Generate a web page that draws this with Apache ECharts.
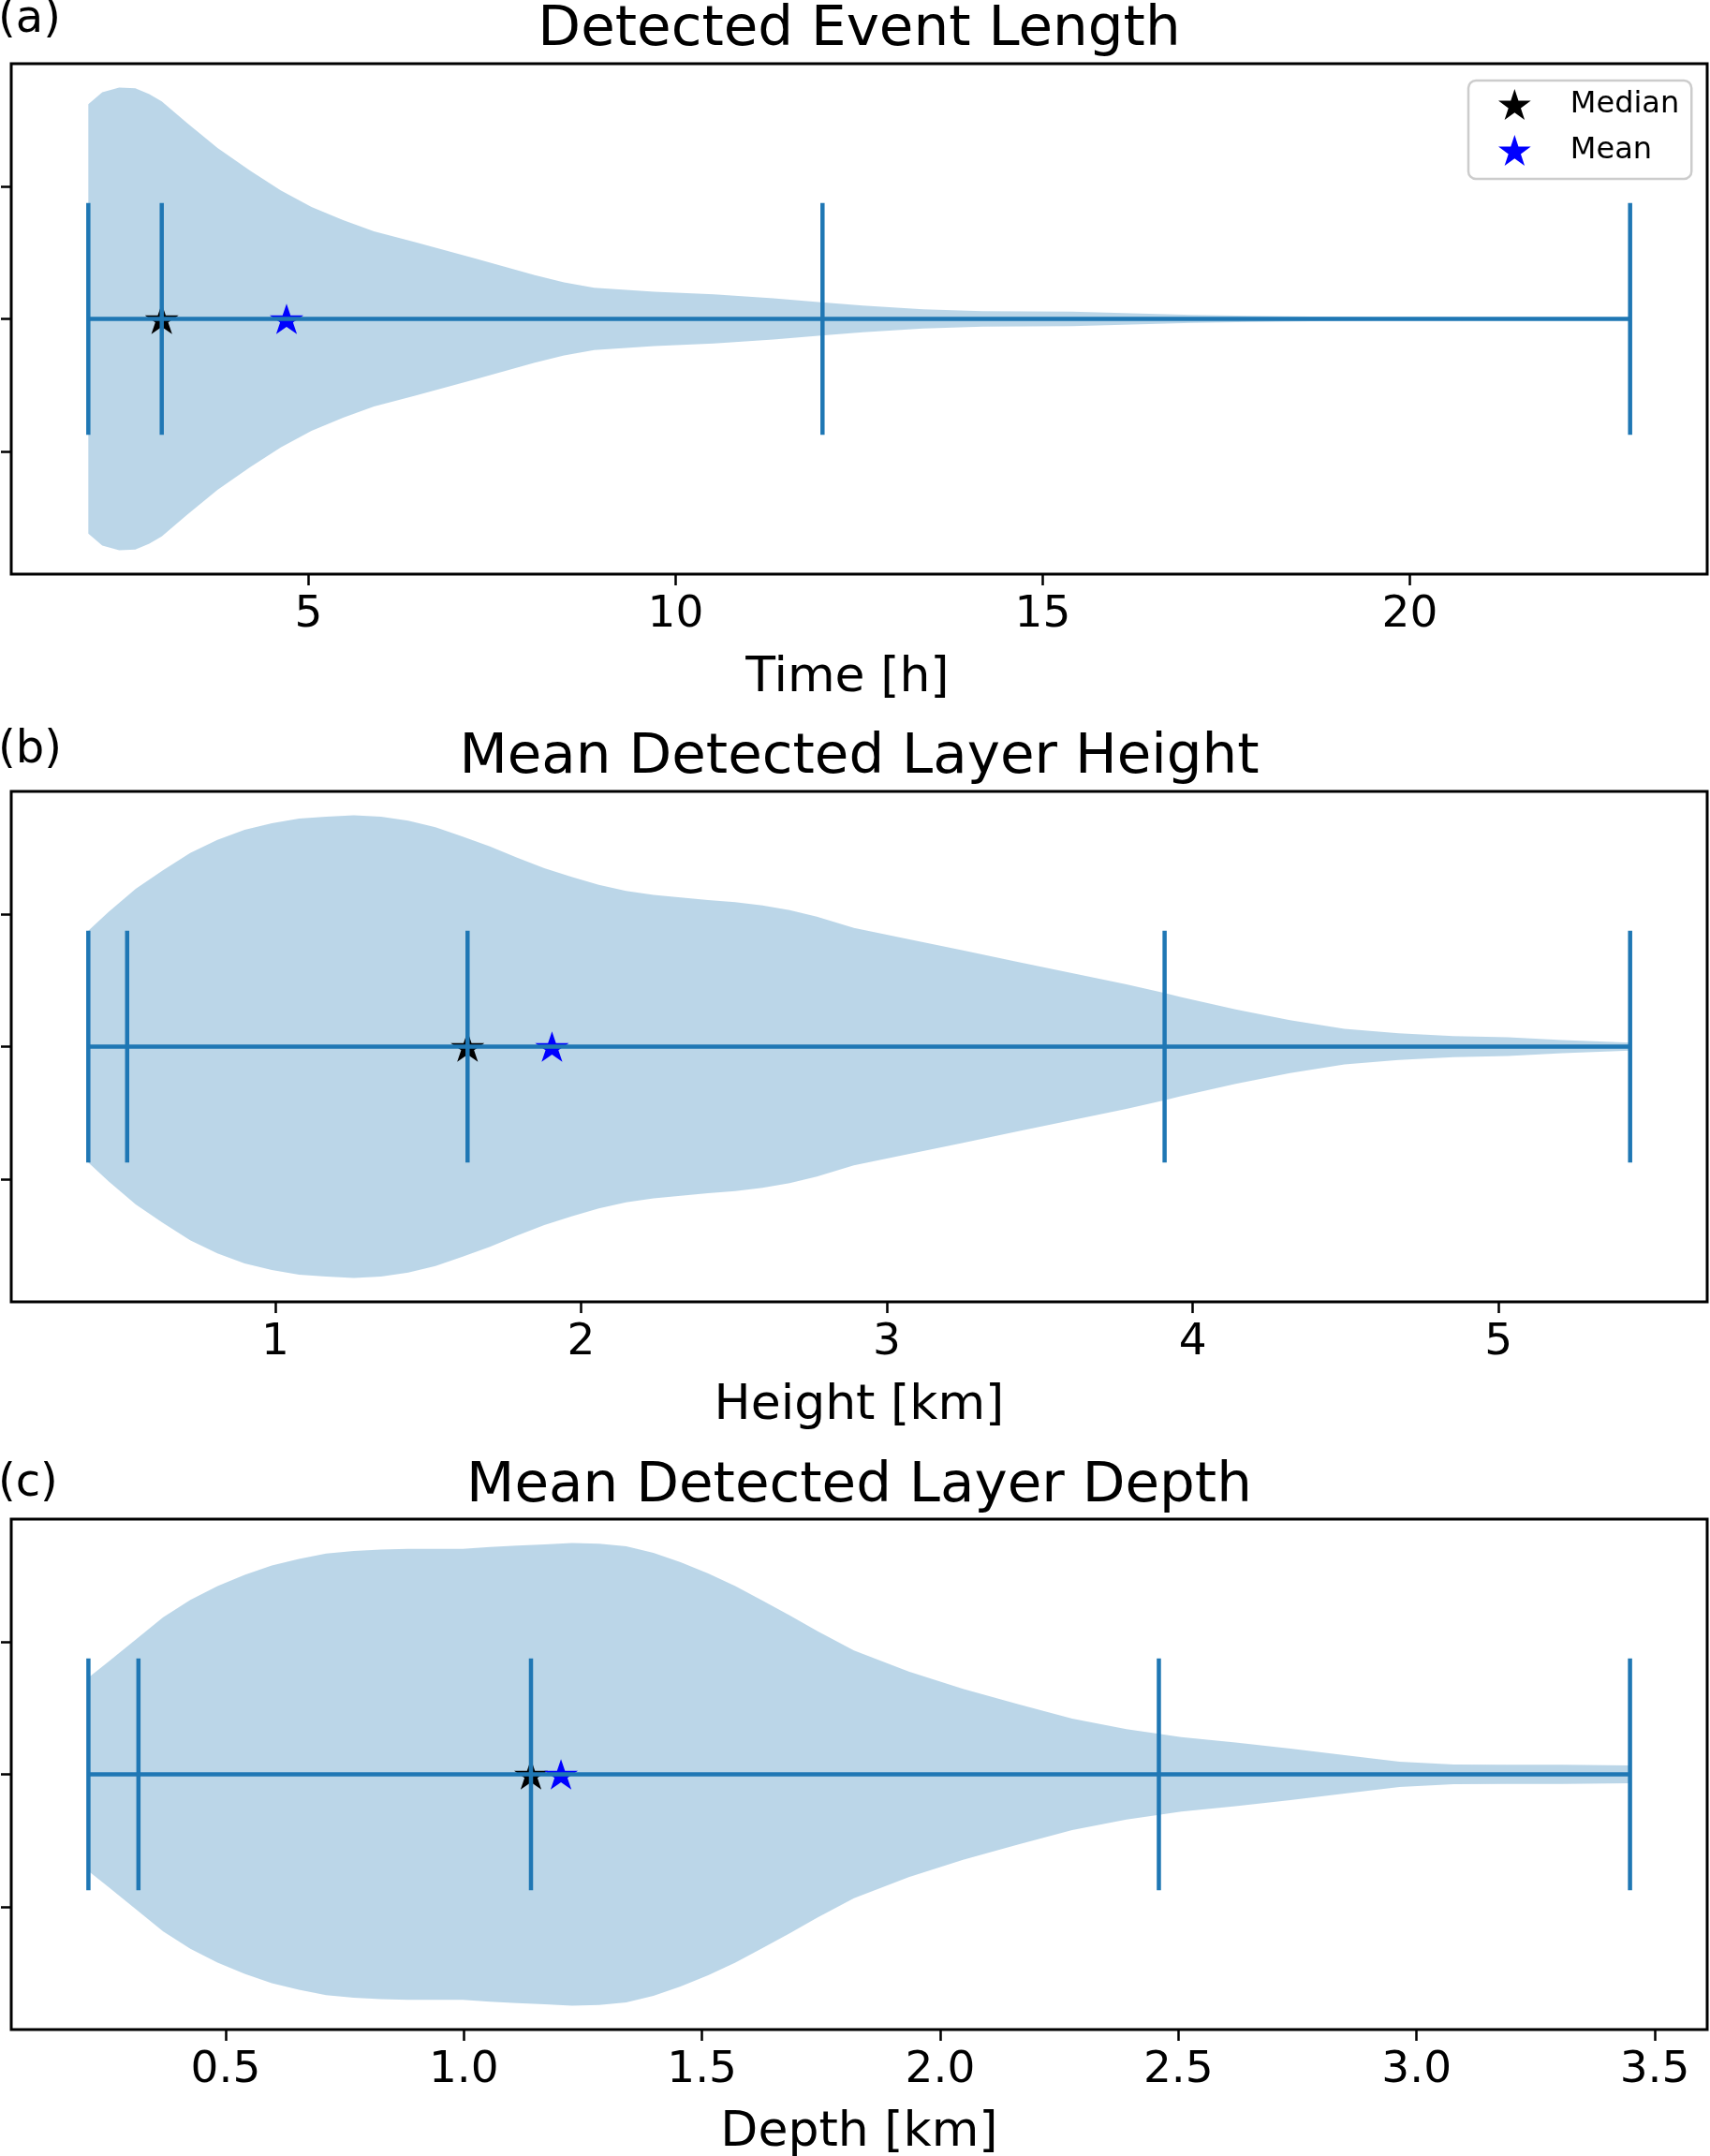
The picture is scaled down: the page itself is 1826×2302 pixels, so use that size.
<!DOCTYPE html>
<html>
<head>
<meta charset="utf-8">
<script src="https://cdn.jsdelivr.net/npm/echarts@6.0.0/dist/echarts.min.js"></script>
<style>
  html, body { margin: 0; padding: 0; background: #ffffff; }
  #chart { width: 1826px; height: 2302px; }
</style>
</head>
<body>
<div id="chart"></div>
<script>
// ---------------- DATA ----------------
// (a) Detected Event Length
const aX = [2.00, 2.19, 2.42, 2.64, 2.83, 3.00, 3.34, 3.76, 4.20, 4.62, 5.04, 5.47, 5.89, 6.45, 7.27, 8.08, 8.48, 8.89, 9.71, 10.52, 11.33, 11.98, 12.55, 13.37, 14.18, 15.40, 16.21, 17.03, 17.84, 18.39, 19.5, 21.0, 23.0];
const aHalfWidth = [0.324, 0.342, 0.349, 0.348, 0.339, 0.328, 0.296, 0.258, 0.224, 0.194, 0.169, 0.149, 0.132, 0.116, 0.091, 0.066, 0.055, 0.047, 0.041, 0.037, 0.031, 0.025, 0.020, 0.0145, 0.0117, 0.0108, 0.0084, 0.006, 0.0046, 0.0038, 0.0025, 0.002, 0.0015];
const aLines = [2.0, 3.0, 12.0, 23.0];
const aMedian = 3.0;
const aMean = 4.7;
const aTicks = [5, 10, 15, 20];

// (b) Mean Detected Layer Height
const bX = [0.389, 0.455, 0.544, 0.633, 0.722, 0.811, 0.900, 0.989, 1.078, 1.167, 1.257, 1.346, 1.435, 1.524, 1.613, 1.702, 1.791, 1.880, 1.969, 2.058, 2.147, 2.237, 2.326, 2.415, 2.504, 2.593, 2.682, 2.771, 2.892, 3.070, 3.249, 3.427, 3.605, 3.783, 3.908, 3.960, 4.140, 4.318, 4.496, 4.673, 4.852, 5.030, 5.209, 5.430];
const bHalfWidth = [0.175, 0.203, 0.238, 0.266, 0.292, 0.312, 0.327, 0.337, 0.344, 0.347, 0.349, 0.347, 0.341, 0.331, 0.317, 0.302, 0.285, 0.269, 0.256, 0.244, 0.235, 0.229, 0.225, 0.221, 0.218, 0.213, 0.206, 0.196, 0.179, 0.162, 0.145, 0.128, 0.111, 0.094, 0.081, 0.075, 0.056, 0.040, 0.027, 0.020, 0.016, 0.014, 0.010, 0.006];
const bLines = [0.389, 0.516, 1.629, 3.908, 5.430];
const bMedian = 1.629;
const bMean = 1.905;
const bTicks = [1, 2, 3, 4, 5];

// (c) Mean Detected Layer Depth
const cX = [0.212, 0.254, 0.311, 0.369, 0.426, 0.483, 0.540, 0.597, 0.654, 0.711, 0.769, 0.826, 0.883, 0.941, 0.998, 1.055, 1.112, 1.170, 1.227, 1.284, 1.341, 1.398, 1.455, 1.513, 1.570, 1.627, 1.684, 1.742, 1.819, 1.934, 2.048, 2.163, 2.277, 2.391, 2.459, 2.506, 2.620, 2.735, 2.849, 2.964, 3.078, 3.192, 3.307, 3.448];
const cHalfWidth = [0.146, 0.170, 0.203, 0.237, 0.263, 0.284, 0.301, 0.315, 0.325, 0.333, 0.337, 0.339, 0.340, 0.340, 0.340, 0.343, 0.345, 0.347, 0.349, 0.348, 0.344, 0.334, 0.320, 0.303, 0.284, 0.262, 0.240, 0.216, 0.187, 0.155, 0.129, 0.106, 0.084, 0.068, 0.061, 0.056, 0.048, 0.039, 0.029, 0.019, 0.0150, 0.0146, 0.0146, 0.0134];
const cLines = [0.212, 0.317, 1.141, 2.459, 3.448];
const cMedian = 1.141;
const cMean = 1.204;
const cTicks = [0.5, 1.0, 1.5, 2.0, 2.5, 3.0, 3.5];

const titles = ['Detected Event Length', 'Mean Detected Layer Height', 'Mean Detected Layer Depth'];
const panelLabels = ['(a)', '(b)', '(c)'];
const axisNames = ['Time [h]', 'Height [km]', 'Depth [km]'];
const yTicks = [0.8, 1.0, 1.2];

// ---------------- STYLE / LAYOUT ----------------
const FONT = 'DejaVu Sans';
const BLUE = '#1f77b4';
const FILL = 'rgba(31,119,180,0.3)';
const CENTER = 1.0;          // violin position
const EXTREMA_HALF = 0.175;  // half length of the extrema / quantile bars
const GRID_TOP = [68, 845, 1622];
const GRID_H = 545;
const GRID_LEFT = 12;
const GRID_RIGHT = 3;
const X_RANGE = [[0.95, 24.05], [0.137, 5.682], [0.050, 3.610]];
const DECIMALS = [0, 0, 1];
const TITLE_Y = [33, 810, 1588];
const LABEL_Y = [22, 802, 1585];
const NAME_Y = [724, 1501, 2277];
const NAME_X = [905, 917.5, 917.5];

const starPath = (function () {
  let d = '';
  for (let k = 0; k < 10; k++) {
    const r = k % 2 === 0 ? 1 : 0.381966;
    const ang = -Math.PI / 2 + k * Math.PI / 5;
    d += (k === 0 ? 'M' : 'L') + (r * Math.cos(ang)).toFixed(4) + ' ' + (r * Math.sin(ang)).toFixed(4) + ' ';
  }
  return 'path://' + d + 'Z';
})();

const panels = [
  { x: aX, hw: aHalfWidth, lines: aLines, median: aMedian, mean: aMean, ticks: aTicks },
  { x: bX, hw: bHalfWidth, lines: bLines, median: bMedian, mean: bMean, ticks: bTicks },
  { x: cX, hw: cHalfWidth, lines: cLines, median: cMedian, mean: cMean, ticks: cTicks }
];

const grids = [], xAxes = [], yAxes = [], series = [], graphics = [];

panels.forEach(function (p, i) {
  grids.push({
    left: GRID_LEFT, right: GRID_RIGHT, top: GRID_TOP[i], height: GRID_H,
    show: true, borderColor: '#000', borderWidth: 3, backgroundColor: 'transparent', containLabel: false
  });
  const dec = DECIMALS[i];
  xAxes.push({
    type: 'value', gridIndex: i, min: X_RANGE[i][0], max: X_RANGE[i][1],
    axisLine: { show: false },
    splitLine: { show: false },
    axisTick: { show: true, customValues: p.ticks, length: 12, lineStyle: { color: '#000', width: 2.5 } },
    axisLabel: {
      show: true, customValues: p.ticks, margin: 20, color: '#000', fontSize: 47, fontFamily: FONT,
      formatter: function (v) { return Number(v).toFixed(dec); }
    }
  });
  yAxes.push({
    type: 'value', gridIndex: i, min: 0.615, max: 1.385,
    axisLine: { show: false },
    splitLine: { show: false },
    axisTick: { show: true, customValues: yTicks, length: 11, lineStyle: { color: '#000', width: 2.5 } },
    axisLabel: { show: false, customValues: yTicks }
  });

  // violin body
  series.push({
    type: 'custom', xAxisIndex: i, yAxisIndex: i, z: 1, silent: true,
    data: [[p.x[0], CENTER]],
    encode: { x: 0, y: 1 },
    renderItem: function (params, api) {
      const pts = [];
      for (let k = 0; k < p.x.length; k++) pts.push(api.coord([p.x[k], CENTER + p.hw[k]]));
      for (let k = p.x.length - 1; k >= 0; k--) pts.push(api.coord([p.x[k], CENTER - p.hw[k]]));
      return { type: 'polygon', shape: { points: pts }, style: { fill: FILL, stroke: null } };
    }
  });

  // median & mean stars
  series.push({
    type: 'scatter', name: 'Median', xAxisIndex: i, yAxisIndex: i, z: 2,
    symbol: starPath, symbolSize: [36, 34], symbolKeepAspect: true,
    itemStyle: { color: '#000000', opacity: 1 },
    data: [[p.median, CENTER]]
  });
  series.push({
    type: 'scatter', name: 'Mean', xAxisIndex: i, yAxisIndex: i, z: 2,
    symbol: starPath, symbolSize: [36, 34], symbolKeepAspect: true,
    itemStyle: { color: '#0000ff', opacity: 1 },
    data: [[p.mean, CENTER]]
  });

  // vertical bars (extrema / quantiles)
  series.push({
    type: 'custom', xAxisIndex: i, yAxisIndex: i, z: 3, silent: true,
    data: p.lines.map(function (v) { return [v, CENTER]; }),
    encode: { x: 0, y: 1 },
    renderItem: function (params, api) {
      const a = api.coord([api.value(0), CENTER - EXTREMA_HALF]);
      const b = api.coord([api.value(0), CENTER + EXTREMA_HALF]);
      return { type: 'line', shape: { x1: a[0], y1: a[1], x2: b[0], y2: b[1] }, style: { stroke: BLUE, lineWidth: 4.5 } };
    }
  });
  // horizontal bar from min to max
  series.push({
    type: 'custom', xAxisIndex: i, yAxisIndex: i, z: 3, silent: true,
    data: [[p.lines[0], p.lines[p.lines.length - 1]]],
    encode: { x: [0, 1] },
    renderItem: function (params, api) {
      const a = api.coord([api.value(0), CENTER]);
      const b = api.coord([api.value(1), CENTER]);
      return { type: 'line', shape: { x1: a[0], y1: a[1], x2: b[0], y2: b[1] }, style: { stroke: BLUE, lineWidth: 4.5 } };
    }
  });

  graphics.push({
    type: 'text', x: 917.5, y: TITLE_Y[i],
    style: { text: titles[i], fill: '#000', fontSize: 59.5, fontFamily: FONT, align: 'center', verticalAlign: 'middle', textAlign: 'center', textVerticalAlign: 'middle' }
  });
  graphics.push({
    type: 'text', x: -2, y: LABEL_Y[i],
    style: { text: panelLabels[i], fill: '#000', fontSize: 48, fontFamily: FONT, align: 'left', verticalAlign: 'middle', textAlign: 'left', textVerticalAlign: 'middle' }
  });
  graphics.push({
    type: 'text', x: NAME_X[i], y: NAME_Y[i],
    style: { text: axisNames[i], fill: '#000', fontSize: 52, fontFamily: FONT, align: 'center', verticalAlign: 'middle', textAlign: 'center', textVerticalAlign: 'middle' }
  });
});

const option = {
  animation: false,
  backgroundColor: '#ffffff',
  grid: grids,
  xAxis: xAxes,
  yAxis: yAxes,
  legend: {
    data: ['Median', 'Mean'],
    orient: 'vertical',
    left: 1568, top: 86,
    padding: [9, 13, 14, 32],
    itemGap: 16,
    itemWidth: 35, itemHeight: 33,
    backgroundColor: 'rgba(255,255,255,0.8)',
    borderColor: '#cccccc', borderWidth: 2.5, borderRadius: 8,
    selectedMode: false,
    itemStyle: { opacity: 1 },
    textStyle: { color: '#000', fontSize: 32, fontFamily: FONT, lineHeight: 32, padding: [0, 0, 0, 37] }
  },
  graphic: { elements: graphics },
  series: series
};

const chart = echarts.init(document.getElementById('chart'), null, { renderer: 'canvas', width: 1826, height: 2302 });
chart.setOption(option);
</script>
</body>
</html>
